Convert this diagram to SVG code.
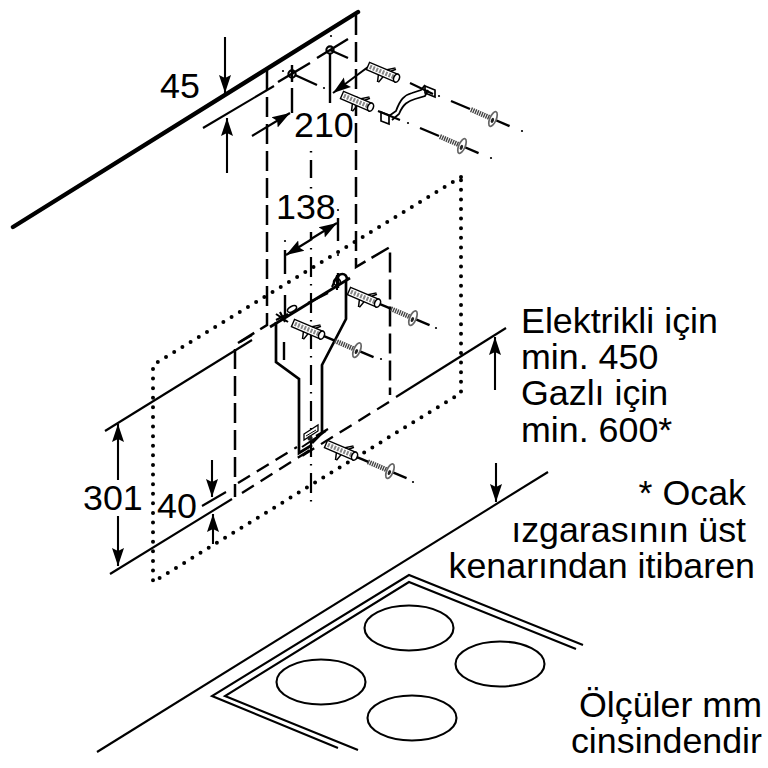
<svg xmlns="http://www.w3.org/2000/svg" xmlns:xlink="http://www.w3.org/1999/xlink" width="768" height="768" viewBox="0 0 768 768">
<style>
.s{fill:none;stroke:#000;stroke-width:2.1}
.m{fill:none;stroke:#000;stroke-width:2.4;stroke-linecap:butt}
.d{fill:none;stroke:#000;stroke-width:2.5;stroke-dasharray:20 7}
.f{fill:none;stroke:#000;stroke-width:2.3;stroke-dasharray:14 8}
.c{fill:none;stroke:#000;stroke-width:2.2;stroke-dasharray:1.5 7.5 20 7}
.o{fill:none;stroke:#000;stroke-width:4;stroke-linecap:round;stroke-dasharray:0 9.6}
.a{fill:none;stroke:#000;stroke-width:2.1;marker-end:url(#ah)}
.t{font-family:"Liberation Sans",Arial,sans-serif;font-size:35.8px;fill:#000}
.e{text-anchor:end}
.p{fill:none;stroke:#000;stroke-width:2.7}
.dot{fill:#000}
</style>
<defs>
<marker id="ah" markerUnits="userSpaceOnUse" markerWidth="20" markerHeight="14" refX="18" refY="7" orient="auto">
<path d="M0,1 L18,7 L0,13 L3,7 z" fill="#000"/>
</marker>
<g id="dowel">
<path d="M0,-4 L31,-4 L31,4 L0,4 z" fill="#fff" stroke="#000" stroke-width="1.4"/>
<path d="M2,0 H30" stroke="#888" stroke-width="4.4" stroke-dasharray="2 1.4" fill="none"/>
<path d="M13,4 L15,11 M18,4 L16,11 M19,-4 L26,-9 M23,-4 L27,-8" stroke="#000" stroke-width="1.5" fill="none"/>
<ellipse cx="31" cy="0" rx="2.8" ry="4.2" fill="#fff" stroke="#000" stroke-width="1.6"/>
</g>
<g id="screw">
<path d="M0,0 H18" stroke="#000" stroke-width="2.4" fill="none"/>
<path d="M-24,0 H-2" stroke="#444" stroke-width="5" stroke-dasharray="1.4 0.9" fill="none"/>
<path d="M-2,0 H1" stroke="#222" stroke-width="2.2"/>
<ellipse cx="0" cy="0" rx="3.2" ry="7.8" fill="#fff" stroke="#666" stroke-width="1.7"/>
<ellipse cx="0" cy="1.5" rx="1.5" ry="2.6" fill="#222"/>
</g>
<g id="anchor">
<path d="M33,0 H46" stroke="#000" stroke-width="2.4"/>
<use xlink:href="#dowel" href="#dowel"/>
<use xlink:href="#screw" href="#screw" transform="translate(69.5,0)"/>
</g>
</defs>
<rect width="768" height="768" fill="#fff"/>

<g id="wall-top">
<path d="M13,227 L358,12" fill="none" stroke="#000" stroke-width="4.4" stroke-linecap="round"/>
<path class="s" d="M203,128 L274,86"/>
</g>

<g id="hood-outline">
<path class="d" d="M267,70 V325 L238,343"/>
<path class="d" d="M356,15 V267 L390,247 V395"/>
<path class="f" d="M389,402 L297,459"/>
<path class="f" d="M238,483 L297,447"/>
<path class="f" d="M242,493 L310,450"/>
<path class="d" d="M235,349 V497"/>
<path class="o" d="M461,177 L153,365 V582 L461,393 V177"/>
</g>

<g id="axes">
<path class="m" d="M311,151v1.5M311,160v18M311,187v1.5M311,232v8"/>
<path class="c" d="M311,248 V502"/>
<path class="m" d="M285,250 V274 M285,295 V316 M284,342 V360 M338,218 V241 M338,273 V288"/>
<path class="m" d="M292,65 V82 M292,88 V113 M330,53 V103"/>
<path class="m" d="M278,82 L310,63 M317,58 L348,39 M295,75 L317,85 M330,50 L348,58"/>
<circle cx="292" cy="74" r="3.6" class="s"/>
<circle cx="330" cy="50" r="3.6" class="s"/>
<g class="dot">
<circle cx="283" cy="71" r="1.1"/><circle cx="324" cy="88" r="1.1"/><circle cx="331" cy="36" r="1.1"/>
<circle cx="285" cy="241" r="1.1"/><circle cx="338" cy="210" r="1.1"/><circle cx="338" cy="255" r="1.1"/>
<circle cx="439" cy="96" r="1.1"/><circle cx="408" cy="123" r="1.1"/><circle cx="522" cy="131" r="1.1"/><circle cx="491" cy="158" r="1.1"/>
<circle cx="436" cy="328" r="1.1"/><circle cx="381" cy="359" r="1.1"/><circle cx="413" cy="482" r="1.1"/>
</g>
</g>

<g id="connectors">
<path class="s" d="M105,431 L252,340"/>
<path class="s" d="M240,342 L252,335"/>
<path class="s" d="M396,397 L506,328"/>
<path class="s" d="M110,574 L232,499"/>
<path class="s" d="M202,506 L226,492"/>
<path class="s" d="M97,752 L548,472"/>
<path class="a" d="M225,37 V93"/>
<path class="a" d="M227,173 V118"/>
<path class="a" d="M252,136 L290,113"/>
<path class="a" d="M368,67 L333,93"/>
<path class="a" d="M312,239 L286,255"/>
<path class="a" d="M311,239 L337,223"/>
<path class="a" d="M118,480 V424"/>
<path class="a" d="M118,516 V566"/>
<path class="a" d="M212,460 V497"/>
<path class="a" d="M213,544 V514"/>
<path class="a" d="M495,390 V337"/>
<path class="a" d="M496,463 V502"/>
</g>

<g id="top-bracket">
<path d="M389,116 L396,111 C400,100 404,95 412,93 L421,90 L425,85 M392,120 L399,114 C403,104 408,101 415,99 L425,96 L428,90" fill="#fff" stroke="#000" stroke-width="1.8"/>
<path d="M378,111 L400,120 M410,83 L433,94" class="s"/>
<path d="M381,112 L389,115 V124 L381,121 z M425,86 L435,90 V97 L425,93 z" fill="none" stroke="#000" stroke-width="1.7"/>
</g>

<g id="top-anchors">
<use xlink:href="#dowel" href="#dowel" transform="translate(368,66) rotate(23)"/>
<use xlink:href="#dowel" href="#dowel" transform="translate(342,95) rotate(23)"/>
<path d="M451,101 L470,109 M420,128 L439,136" stroke="#000" stroke-width="2.4"/>
<use xlink:href="#screw" href="#screw" transform="translate(493,119) rotate(23)"/>
<use xlink:href="#screw" href="#screw" transform="translate(462,146) rotate(23)"/>
</g>

<g id="wall-plate">
<path class="p" d="M270,327 L350,278"/>
<path class="p" d="M276,322 V362 L299,379 V453 L312,445 M346,280 V319 L322,365 V433 L312,443"/>
<path class="p" d="M337,280 C338,272 347,272 347,280"/>
<path class="s" d="M308,303 L328,293"/>
<ellipse cx="292" cy="309" rx="5" ry="2.6" transform="rotate(-30 292 309)" fill="#fff" stroke="#000" stroke-width="1.5"/>
<path d="M276,320 L288,314 M280,312 L285,322 M276,314 L288,322" class="s"/>
<path d="M332,287 L337,276 M337,275 V290" class="s"/>
<circle cx="337" cy="282" r="3.4" fill="none" stroke="#000" stroke-width="1.8"/>
<path d="M304,434 L318,425 V431 L304,440 z" fill="#fff" stroke="#000" stroke-width="1.3"/>
<path d="M306,436 L316,430" stroke="#000" stroke-width="1"/>
<path d="M302,447 L326,431 M316,436 L328,429" class="s"/>
<circle cx="310" cy="438" r="2.6" fill="#222"/>
</g>

<g id="wall-anchors">
<use xlink:href="#anchor" href="#anchor" transform="translate(349,291) rotate(23)"/>
<use xlink:href="#anchor" href="#anchor" transform="translate(293,323) rotate(23)"/>
<use xlink:href="#anchor" href="#anchor" transform="translate(326,444) rotate(23)"/>
</g>

<g id="cooktop">
<path class="s" d="M338,748 L212,696 L409,575 L583,645"/>
<path class="s" d="M358,750 L225,696 L409,582 L576,649"/>
<ellipse class="s" cx="409" cy="628" rx="44.5" ry="22.5"/>
<ellipse class="s" cx="500" cy="664" rx="44.5" ry="22.5"/>
<ellipse class="s" cx="321" cy="682" rx="44.5" ry="22.5"/>
<ellipse class="s" cx="412" cy="718" rx="44.5" ry="22.5"/>
</g>

<g id="labels">
<text class="t" x="160" y="98">45</text>
<text class="t" x="294" y="137">210</text>
<text class="t" x="276" y="219">138</text>
<text class="t" x="83" y="510">301</text>
<text class="t" x="157" y="518">40</text>
<text class="t" x="521" y="333">Elektrikli için</text>
<text class="t" x="521" y="369">min. 450</text>
<text class="t" x="521" y="405">Gazlı için</text>
<text class="t" x="521" y="442">min. 600*</text>
<text class="t e" x="746" y="505">* Ocak</text>
<text class="t e" x="746" y="542">ızgarasının üst</text>
<text class="t e" x="755" y="578">kenarından itibaren</text>
<text class="t e" x="762" y="717">Ölçüler mm</text>
<text class="t e" x="762" y="753">cinsindendir</text>
</g>
</svg>
